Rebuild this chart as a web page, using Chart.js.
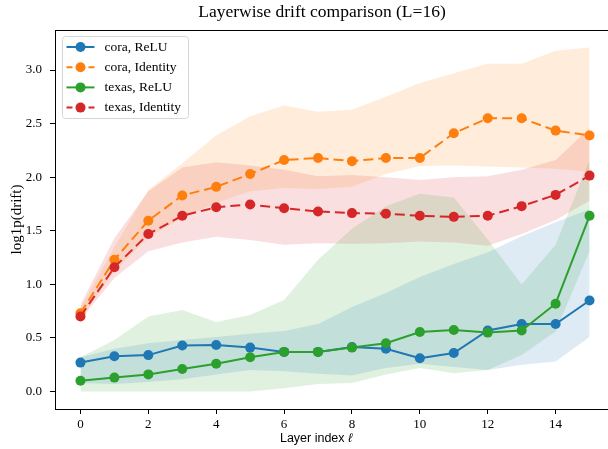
<!DOCTYPE html>
<html>
<head>
<meta charset="utf-8">
<script src="https://cdn.jsdelivr.net/npm/chart.js@4"></script>
<style>
  html, body { margin: 0; padding: 0; background: #fff; overflow: hidden; }
  #wrap { width: 620px; height: 449px; }
</style>
</head>
<body>
<div id="wrap"><canvas id="chart"></canvas></div>
<script>
// layer indices
const layers = [0, 1, 2, 3, 4, 5, 6, 7, 8, 9, 10, 11, 12, 13, 14, 15];
const xTicks = [0, 2, 4, 6, 8, 10, 12, 14];
const yTicks = [0.0, 0.5, 1.0, 1.5, 2.0, 2.5, 3.0];

// mean log1p(drift) per layer
const coraRelu = [0.27, 0.33, 0.34, 0.43, 0.435, 0.41, 0.37, 0.37, 0.415, 0.40, 0.31, 0.36, 0.57, 0.63, 0.63, 0.85];
const coraIdentity = [0.73, 1.23, 1.595, 1.83, 1.91, 2.03, 2.16, 2.18, 2.15, 2.18, 2.18, 2.41, 2.55, 2.55, 2.435, 2.39];
const texasRelu = [0.10, 0.13, 0.16, 0.21, 0.26, 0.32, 0.37, 0.37, 0.41, 0.45, 0.555, 0.575, 0.55, 0.57, 0.82, 1.64];
const texasIdentity = [0.70, 1.16, 1.47, 1.64, 1.72, 1.745, 1.71, 1.68, 1.665, 1.66, 1.64, 1.63, 1.64, 1.73, 1.835, 2.015];

// shaded band edges
const coraReluLow = [0.08, 0.07, 0.09, 0.115, 0.16, 0.20, 0.19, 0.165, 0.15, 0.22, 0.26, 0.23, 0.20, 0.25, 0.28, 0.51];
const coraReluHigh = [0.32, 0.40, 0.45, 0.48, 0.51, 0.54, 0.565, 0.63, 0.79, 0.92, 1.07, 1.19, 1.30, 1.45, 1.58, 1.70];
const coraIdLow = [0.68, 1.12, 1.44, 1.62, 1.76, 1.87, 1.90, 1.89, 1.91, 2.03, 2.105, 2.11, 2.10, 2.09, 2.08, 2.05];
const coraIdHigh = [0.78, 1.35, 1.88, 2.13, 2.39, 2.57, 2.67, 2.61, 2.63, 2.75, 2.88, 2.97, 3.06, 3.06, 3.18, 3.21];
const texasReluLow = [0.0, 0.0, 0.0, 0.0, 0.0, 0.0, 0.03, 0.07, 0.08, 0.16, 0.22, 0.17, 0.20, 0.34, 0.56, 1.31];
const texasReluHigh = [0.32, 0.48, 0.70, 0.76, 0.65, 0.715, 0.855, 1.23, 1.52, 1.73, 1.845, 1.81, 1.42, 1.0, 1.37, 2.16];
const texasIdLow = [0.67, 1.06, 1.31, 1.39, 1.445, 1.415, 1.37, 1.385, 1.38, 1.385, 1.40, 1.39, 1.36, 1.47, 1.60, 1.78];
const texasIdHigh = [0.81, 1.43, 1.87, 2.09, 2.14, 2.11, 2.07, 2.01, 2.02, 2.0, 1.975, 2.0, 2.01, 2.07, 2.16, 2.46];

const BLUE = '#1f77b4', ORANGE = '#ff7f0e', GREEN = '#2ca02c', RED = '#d62728';
const SERIF = '"Liberation Serif", "DejaVu Serif", serif';
const SANS = '"Liberation Sans", Arial, sans-serif';
const TITLE = 'Layerwise drift comparison (L=16)';

const xy = arr => arr.map((v, i) => ({ x: layers[i], y: v }));

function rgba(hex, a) {
  const n = parseInt(hex.slice(1), 16);
  return `rgba(${n >> 16}, ${(n >> 8) & 255}, ${n & 255}, ${a})`;
}

function lineSet(label, data, color, dashed, order) {
  return {
    label: label,
    data: xy(data),
    borderColor: color,
    backgroundColor: color,
    borderWidth: 2,
    borderDash: dashed ? [10, 5] : [],
    pointRadius: 5,
    pointBorderWidth: 0,
    pointBackgroundColor: color,
    tension: 0,
    fill: false,
    order: order,
    isLine: true
  };
}

function bandSets(low, high, color, lowIndex) {
  return [
    { data: xy(low), borderWidth: 0, pointRadius: 0, fill: false, order: 10 },
    { data: xy(high), borderWidth: 0, pointRadius: 0, fill: lowIndex,
      backgroundColor: rgba(color, 0.15), order: 10 }
  ];
}

const datasets = [
  lineSet('cora, ReLU', coraRelu, BLUE, false, 4),
  lineSet('cora, Identity', coraIdentity, ORANGE, true, 3),
  lineSet('texas, ReLU', texasRelu, GREEN, false, 2),
  lineSet('texas, Identity', texasIdentity, RED, true, 1),
  ...bandSets(coraReluLow, coraReluHigh, BLUE, 4),
  ...bandSets(coraIdLow, coraIdHigh, ORANGE, 6),
  ...bandSets(texasReluLow, texasReluHigh, GREEN, 8),
  ...bandSets(texasIdLow, texasIdHigh, RED, 10)
];

// frame, title, x label and legend, placed like the matplotlib figure
const framePlugin = {
  id: 'frame',
  afterDatasetsDraw(chart) {
    const { ctx, chartArea: a } = chart;
    ctx.save();
    ctx.strokeStyle = '#000';
    ctx.lineWidth = 1;
    ctx.strokeRect(Math.round(a.left) + 0.5, Math.round(a.top) + 0.5,
      Math.round(a.right - a.left), Math.round(a.bottom - a.top));

    // title
    ctx.fillStyle = '#000';
    ctx.textAlign = 'center';
    ctx.textBaseline = 'middle';
    ctx.font = '17.5px ' + SERIF;
    ctx.fillText(TITLE, 322, 12.5);

    // x axis label with italic ell
    ctx.font = '12.5px ' + SANS;
    const main = 'Layer index ';
    const wMain = ctx.measureText(main).width;
    ctx.font = 'italic 12.5px ' + SANS;
    const wEll = ctx.measureText('ℓ').width;
    const x0 = 316 - (wMain + wEll) / 2;
    ctx.textAlign = 'left';
    ctx.font = '12.5px ' + SANS;
    ctx.fillText(main, x0, 439);
    ctx.font = 'italic 12.5px ' + SANS;
    ctx.fillText('ℓ', x0 + wMain, 439);

    // legend box
    const bx = a.left + 7.5, by = a.top + 6.5, bw = 126, bh = 82;
    ctx.beginPath();
    ctx.roundRect(bx, by, bw, bh, 3);
    ctx.fillStyle = 'rgba(255,255,255,0.8)';
    ctx.fill();
    ctx.strokeStyle = '#d6d6d6';
    ctx.stroke();

    const items = chart.data.datasets.filter(d => d.isLine);
    ctx.font = '13.5px ' + SERIF;
    items.forEach((d, i) => {
      const y = by + 10.5 + i * 20.2;
      const lx = bx + 4;
      ctx.strokeStyle = d.borderColor;
      ctx.lineWidth = 2;
      ctx.setLineDash(d.borderDash.length ? [6, 5] : []);
      ctx.beginPath();
      ctx.moveTo(lx, y);
      ctx.lineTo(lx + 28, y);
      ctx.stroke();
      ctx.setLineDash([]);
      ctx.fillStyle = d.borderColor;
      ctx.beginPath();
      ctx.arc(lx + 14, y, 5, 0, Math.PI * 2);
      ctx.fill();
      ctx.fillStyle = '#000';
      ctx.fillText(d.label, lx + 38, y);
    });
    ctx.restore();
  }
};

new Chart(document.getElementById('chart'), {
  type: 'line',
  data: { datasets: datasets },
  plugins: [framePlugin],
  options: {
    responsive: true,
    maintainAspectRatio: false,
    animation: false,
    layout: { padding: { left: 0, right: 4.5, top: 30, bottom: 0 } },
    plugins: {
      legend: { display: false },
      tooltip: { enabled: false },
      filler: { drawTime: 'beforeDatasetsDraw' },
      title: { display: false }
    },
    scales: {
      x: {
        type: 'linear',
        min: -0.75,
        max: 15.75,
        afterBuildTicks: s => { s.ticks = xTicks.map(v => ({ value: v })); },
        afterFit: s => { s.height = 40; },
        grid: { drawOnChartArea: false, drawTicks: true, tickLength: 5, color: '#000' },
        border: { display: true, color: '#000' },
        ticks: { color: '#000', font: { family: SERIF, size: 13 }, padding: 3, maxRotation: 0 },
        title: { display: false }
      },
      y: {
        type: 'linear',
        min: -0.163,
        max: 3.374,
        afterBuildTicks: s => { s.ticks = yTicks.map(v => ({ value: v })); },
        afterFit: s => { s.width = 55; },
        grid: { drawOnChartArea: false, drawTicks: true, tickLength: 5, color: '#000' },
        border: { display: true, color: '#000' },
        ticks: {
          color: '#000',
          font: { family: SERIF, size: 13 },
          padding: 8,
          callback: v => v.toFixed(1)
        },
        title: {
          display: true,
          text: 'log1p(drift)',
          color: '#000',
          font: { family: SERIF, size: 15 },
          padding: { top: 8, bottom: 0 }
        }
      }
    }
  }
});
</script>
</body>
</html>
